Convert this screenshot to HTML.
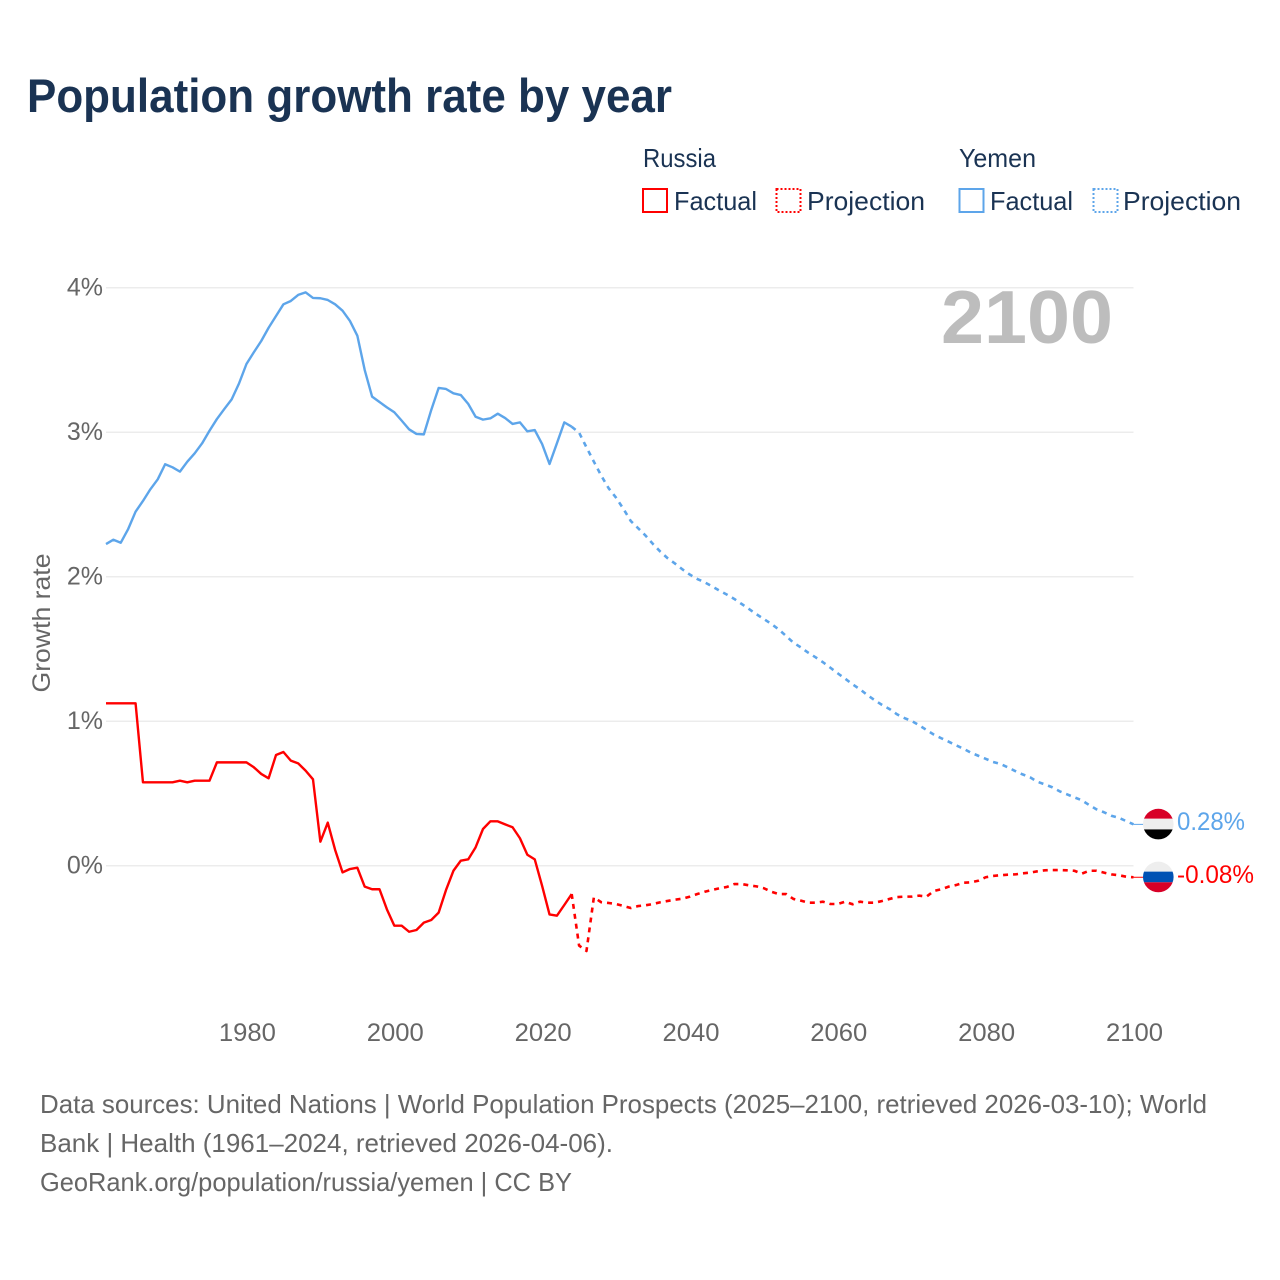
<!DOCTYPE html>
<html lang="en">
<head>
<meta charset="utf-8">
<title>Population growth rate by year</title>
<style>
html,body{margin:0;padding:0;background:#fff}
svg{display:block}
text{font-family:"Liberation Sans",sans-serif}
</style>
</head>
<body>
<svg id="chart" xmlns="http://www.w3.org/2000/svg" width="1280" height="1280" viewBox="0 0 1280 1280">
  <rect width="1280" height="1280" fill="#fff"/>
  <text x="27" y="112" font-size="47" font-weight="700" fill="#1a3353" textLength="645" lengthAdjust="spacingAndGlyphs">Population growth rate by year</text>

  <g font-size="26" fill="#1a3353">
    <text x="643" y="167" textLength="73" lengthAdjust="spacingAndGlyphs">Russia</text>
    <text x="959" y="167" textLength="77" lengthAdjust="spacingAndGlyphs">Yemen</text>
    <g>
      <rect x="643" y="189" width="24" height="23" fill="none" stroke="#ff0000" stroke-width="2"/>
      <text x="674" y="210" textLength="83" lengthAdjust="spacingAndGlyphs">Factual</text>
    </g>
    <g>
      <rect x="776.5" y="189" width="24" height="23" fill="none" stroke="#ff0000" stroke-width="2" stroke-dasharray="2 2"/>
      <text x="807" y="210" textLength="118" lengthAdjust="spacingAndGlyphs">Projection</text>
    </g>
    <g>
      <rect x="959.5" y="189" width="24" height="23" fill="none" stroke="#5da5ea" stroke-width="2"/>
      <text x="990" y="210" textLength="83" lengthAdjust="spacingAndGlyphs">Factual</text>
    </g>
    <g>
      <rect x="1093.5" y="189" width="24" height="23" fill="none" stroke="#5da5ea" stroke-width="2" stroke-dasharray="2 2"/>
      <text x="1123" y="210" textLength="118" lengthAdjust="spacingAndGlyphs">Projection</text>
    </g>
  </g>

  <g id="grid"></g>
  <text x="1113" y="343" font-size="75" font-weight="700" fill="#bdbdbd" text-anchor="end" textLength="172" lengthAdjust="spacingAndGlyphs">2100</text>
  <g id="yLabels" font-size="25" fill="#666"></g>
  <g id="xLabels" font-size="25" fill="#666"></g>
  <text transform="translate(50,623) rotate(-90)" font-size="25" fill="#666" text-anchor="middle" textLength="139" lengthAdjust="spacingAndGlyphs">Growth rate</text>
  <g id="series"></g>
  <g id="ends"></g>

  <g font-size="26" fill="#666">
    <text x="40" y="1113" textLength="1167" lengthAdjust="spacingAndGlyphs">Data sources: United Nations | World Population Prospects (2025–2100, retrieved 2026-03-10); World</text>
    <text x="40" y="1152" textLength="573" lengthAdjust="spacingAndGlyphs">Bank | Health (1961–2024, retrieved 2026-04-06).</text>
    <text x="40" y="1191" textLength="532" lengthAdjust="spacingAndGlyphs">GeoRank.org/population/russia/yemen | CC BY</text>
  </g>
</svg>
<script>
const factualYears = [1961,1962,1963,1964,1965,1966,1967,1968,1969,1970,1971,1972,1973,1974,1975,1976,1977,1978,1979,1980,1981,1982,1983,1984,1985,1986,1987,1988,1989,1990,1991,1992,1993,1994,1995,1996,1997,1998,1999,2000,2001,2002,2003,2004,2005,2006,2007,2008,2009,2010,2011,2012,2013,2014,2015,2016,2017,2018,2019,2020,2021,2022,2023,2024];
const projectionYears = [2024,2025,2026,2027,2028,2029,2030,2031,2032,2033,2034,2035,2036,2037,2038,2039,2040,2041,2042,2043,2044,2045,2046,2047,2048,2049,2050,2051,2052,2053,2054,2055,2056,2057,2058,2059,2060,2061,2062,2063,2064,2065,2066,2067,2068,2069,2070,2071,2072,2073,2074,2075,2076,2077,2078,2079,2080,2081,2082,2083,2084,2085,2086,2087,2088,2089,2090,2091,2092,2093,2094,2095,2096,2097,2098,2099,2100];
const russiaFactual = [1.124,1.124,1.124,1.124,1.124,0.577,0.577,0.577,0.577,0.577,0.588,0.577,0.588,0.588,0.588,0.715,0.715,0.715,0.715,0.715,0.681,0.635,0.605,0.766,0.787,0.727,0.708,0.658,0.598,0.166,0.298,0.109,-0.046,-0.023,-0.014,-0.145,-0.163,-0.163,-0.302,-0.415,-0.415,-0.457,-0.445,-0.394,-0.376,-0.325,-0.168,-0.035,0.035,0.044,0.127,0.254,0.307,0.307,0.286,0.266,0.19,0.076,0.044,-0.14,-0.337,-0.346,-0.272,-0.196];
const russiaProjection = [-0.196,-0.553,-0.59,-0.219,-0.253,-0.258,-0.265,-0.279,-0.293,-0.279,-0.274,-0.265,-0.253,-0.244,-0.235,-0.228,-0.214,-0.196,-0.18,-0.168,-0.156,-0.147,-0.127,-0.127,-0.136,-0.143,-0.156,-0.18,-0.196,-0.196,-0.23,-0.242,-0.256,-0.256,-0.249,-0.265,-0.265,-0.249,-0.267,-0.249,-0.256,-0.256,-0.244,-0.23,-0.217,-0.214,-0.214,-0.207,-0.214,-0.175,-0.163,-0.145,-0.134,-0.118,-0.115,-0.104,-0.08,-0.071,-0.066,-0.062,-0.06,-0.053,-0.048,-0.039,-0.032,-0.03,-0.03,-0.032,-0.035,-0.055,-0.035,-0.035,-0.048,-0.06,-0.066,-0.076,-0.08];
const yemenFactual = [2.226,2.256,2.235,2.33,2.45,2.524,2.605,2.674,2.778,2.757,2.727,2.796,2.854,2.923,3.01,3.091,3.16,3.227,3.338,3.472,3.553,3.631,3.723,3.804,3.885,3.908,3.95,3.968,3.929,3.927,3.915,3.885,3.841,3.77,3.668,3.43,3.246,3.209,3.172,3.138,3.08,3.02,2.988,2.985,3.154,3.306,3.299,3.269,3.257,3.196,3.107,3.087,3.096,3.128,3.098,3.057,3.068,3.006,3.015,2.918,2.78,2.923,3.068,3.038];
const yemenProjection = [3.038,2.997,2.895,2.796,2.699,2.612,2.547,2.469,2.385,2.335,2.284,2.226,2.173,2.127,2.09,2.05,2.014,1.984,1.961,1.933,1.903,1.876,1.846,1.811,1.776,1.74,1.707,1.673,1.636,1.59,1.543,1.511,1.474,1.442,1.408,1.37,1.331,1.294,1.255,1.221,1.181,1.145,1.112,1.084,1.048,1.022,1.001,0.972,0.939,0.907,0.882,0.858,0.833,0.81,0.782,0.761,0.74,0.718,0.704,0.681,0.655,0.632,0.612,0.581,0.563,0.543,0.515,0.494,0.473,0.453,0.42,0.39,0.37,0.346,0.332,0.309,0.286];
const xTickLabels = [1980,2000,2020,2040,2060,2080,2100];
const yTickLabels = [0,1,2,3,4];

const NS = 'http://www.w3.org/2000/svg';
const RED = '#ff0000';
const BLUE = '#5da5ea';
function xScale(year){ return 106 + (year - 1961) * 7.392; }
function yScale(v){ return 865.7 - v * 144.5; }
function make(tag, parent){
  const el = document.createElementNS(NS, tag);
  parent.appendChild(el);
  return el;
}
function pathFrom(years, values){
  return years.map((yr, i) => (i ? 'L' : 'M') + xScale(yr).toFixed(2) + ' ' + yScale(values[i]).toFixed(2)).join('');
}

const gridGroup = document.getElementById('grid');
const yLabelGroup = document.getElementById('yLabels');
yTickLabels.forEach(t => {
  const line = make('line', gridGroup);
  
  
  line.setAttribute('x1', xScale(1961));
  line.setAttribute('x2', xScale(2100));
  line.setAttribute('y1', yScale(t));
  line.setAttribute('y2', yScale(t));
  line.setAttribute('stroke', '#ececec');
  line.setAttribute('stroke-width', '1.5');
  const label = make('text', yLabelGroup);
  
  
  label.setAttribute('x', 103);
  label.setAttribute('y', yScale(t) + 8);
  label.setAttribute('text-anchor', 'end');
  label.textContent = t + '%';
});

const xLabelGroup = document.getElementById('xLabels');
xTickLabels.forEach(t => {
  const label = make('text', xLabelGroup);
  
  
  label.setAttribute('x', xScale(t) + 1);
  label.setAttribute('y', 1041);
  label.setAttribute('text-anchor', 'middle');
  label.setAttribute('textLength', '57');
  label.setAttribute('lengthAdjust', 'spacingAndGlyphs');
  label.textContent = t;
});

const seriesGroup = document.getElementById('series');
function drawLine(name, years, values, color, dash){
  const p = make('path', seriesGroup);
  
  
  p.setAttribute('d', pathFrom(years, values));
  p.setAttribute('fill', 'none');
  p.setAttribute('stroke', color);
  p.setAttribute('stroke-width', dash ? '2.6' : '2.4');
  p.setAttribute('stroke-linejoin', 'round');
  if (dash) p.setAttribute('stroke-dasharray', dash);
}
drawLine('yemen-factual-line', factualYears, yemenFactual, BLUE, '');
drawLine('yemen-projection-line', projectionYears, yemenProjection, BLUE, '5 5');
drawLine('russia-factual-line', factualYears, russiaFactual, RED, '');
drawLine('russia-projection-line', projectionYears, russiaProjection, RED, '5 5');

const endGroup = document.getElementById('ends');
const defs = make('defs', endGroup);
const endSeries = [
  { id: 'yemen', values: yemenProjection, color: BLUE, stripes: ['#d80027', '#eeeeee', '#000000'], text: '0.28%', width: 68 },
  { id: 'russia', values: russiaProjection, color: RED, stripes: ['#eeeeee', '#0052b4', '#d80027'], text: '-0.08%', width: 77 }
];
endSeries.forEach(s => {
  const last = s.values[s.values.length - 1];
  const cy = yScale(last);
  const x0 = xScale(2100);
  const leader = make('line', endGroup);
  
  
  leader.setAttribute('x1', x0);
  leader.setAttribute('x2', x0 + 10);
  leader.setAttribute('y1', cy);
  leader.setAttribute('y2', cy);
  leader.setAttribute('stroke', s.color);
  leader.setAttribute('stroke-width', '1');
  const clip = make('clipPath', defs);
  clip.setAttribute('id', 'clip-' + s.id);
  const circle = make('circle', clip);
  circle.setAttribute('cx', 1158.3);
  circle.setAttribute('cy', cy - 0.3);
  circle.setAttribute('r', 15.3);
  const flag = make('g', endGroup);
  
  
  flag.setAttribute('clip-path', 'url(#clip-' + s.id + ')');
  s.stripes.forEach((c, i) => {
    const r = make('rect', flag);
    
    
    r.setAttribute('x', 1142);
    r.setAttribute('y', cy - 16.3 + i * 10.67);
    r.setAttribute('width', 33);
    r.setAttribute('height', 10.67);
    r.setAttribute('fill', c);
  });
  const label = make('text', endGroup);
  
  
  label.setAttribute('x', 1177);
  label.setAttribute('y', cy + 5.5);
  label.setAttribute('font-size', '25');
  label.setAttribute('fill', s.color);
  label.setAttribute('textLength', s.width);
  label.setAttribute('lengthAdjust', 'spacingAndGlyphs');
  label.textContent = s.text;
});
</script>
</body>
</html>
